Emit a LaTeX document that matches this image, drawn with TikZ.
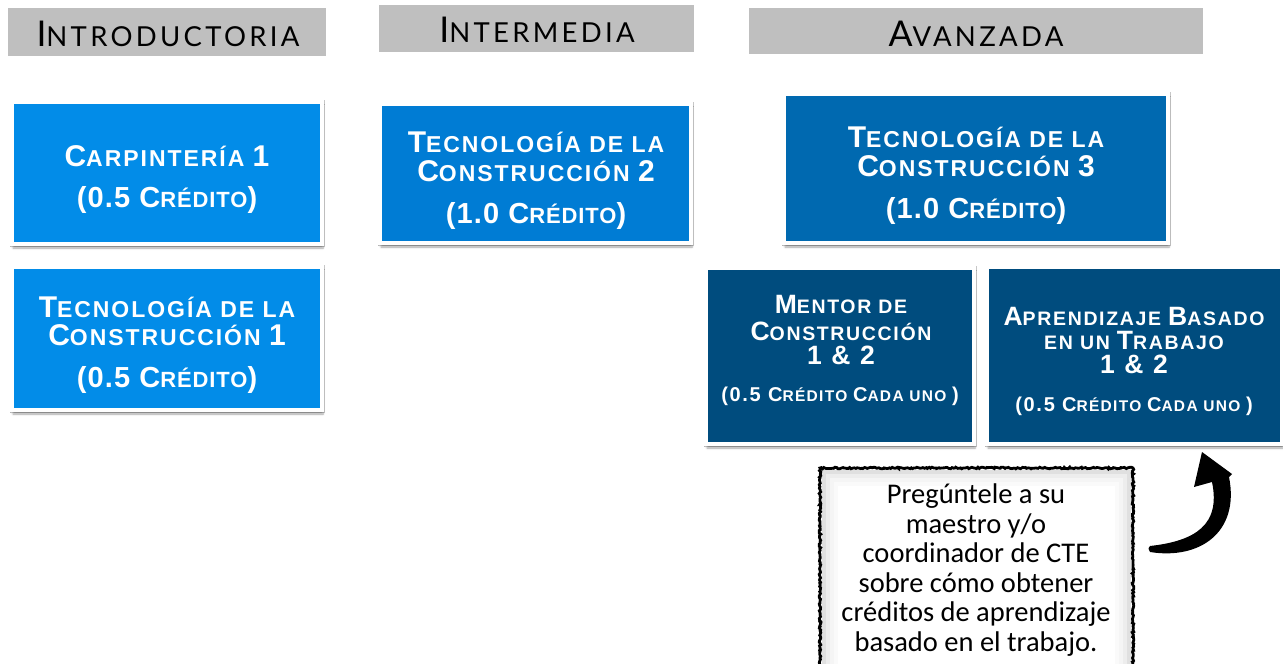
\documentclass[tikz,border=0pt]{standalone}
\usepackage{fontspec}
\setmainfont{Liberation Sans}
\newfontfamily\boxfont[LetterSpace=4]{Liberation Sans Bold}
\newfontfamily\titlefont[LetterSpace=8.5]{Liberation Sans Bold}
\newfontfamily\headfont[LetterSpace=12]{Lato}
\newfontfamily\notefont{Carlito}
\usetikzlibrary{shadows.blur,decorations.pathmorphing}
\definecolor{hdrgray}{RGB}{191,191,191}
\definecolor{blueA}{RGB}{2,140,232}
\definecolor{blueB}{RGB}{0,124,212}
\definecolor{blueC}{RGB}{0,105,176}
\definecolor{blueD}{RGB}{0,76,126}
\newcommand\BG[2]{{\fontsize{#1}{#1}\selectfont #2}}
\tikzset{
  hdr/.style={fill=hdrgray, draw=none, inner sep=0pt},
  hdrtext/.style={anchor=base, inner sep=0pt, font=\headfont\fontsize{27.5}{27.5}\selectfont, text=black},
  course/.style={fill=#1, draw=white, line width=4pt, inner sep=0pt,
    preaction={draw=black!22, line width=5pt},
    blur shadow={shadow xshift=1pt, shadow yshift=-4pt, shadow blur steps=6, shadow opacity=35}},
  ttext/.style={anchor=base, inner sep=0pt, text=white, font=\titlefont\fontsize{23}{23}\selectfont},
  ctext/.style={anchor=base, inner sep=0pt, text=white, font=\boxfont\fontsize{22}{22}\selectfont},
  mtext/.style={anchor=base, inner sep=0pt, text=white, font=\titlefont\fontsize{19.5}{19.5}\selectfont},
  ntext/.style={anchor=base, inner sep=0pt, text=white, font=\titlefont\fontsize{15.5}{15.5}\selectfont},
  notebox/.style={fill=white, draw=none},
}
\begin{document}
\begin{tikzpicture}[x=1pt,y=-1pt]
\useasboundingbox (0,0) rectangle (1283,664);
\clip (0,0) rectangle (1283,664);

% headers
\node[hdr, minimum width=318pt, minimum height=48pt] (hIntro) at (167,32) {};
\node[hdr, minimum width=315pt, minimum height=47pt] (hInter) at (536.5,28.5) {};
\node[hdr, minimum width=454pt, minimum height=46pt] (hAvan) at (976,31) {};
\node[hdrtext] (tIntro) at (168,46) {\BG{35.5}{I}NTRODUCTORIA};
\node[hdrtext] (tInter) at (537,42) {\BG{35.5}{I}NTERMEDIA};
\node[hdrtext] (tAvan) at (976,46) {\BG{35.5}{A}VANZADA};

% course boxes
\node[course=blueA, minimum width=310pt, minimum height=142pt] (carp) at (167,173) {};
\node[course=blueA, minimum width=310pt, minimum height=143pt] (tc1) at (167,338.5) {};
\node[course=blueB, minimum width=311pt, minimum height=139pt] (tc2) at (535.5,173.5) {};
\node[course=blueC, minimum width=384pt, minimum height=149pt] (tc3) at (976,168.5) {};
\node[course=blueD, minimum width=268pt, minimum height=176pt] (ment) at (840,356) {};
\node[course=blueD, minimum width=295pt, minimum height=177pt] (abt) at (1134.5,355.5) {};

% Carpinteria
\node[ttext] (carpA) at (167,166) {\BG{30}{C}ARPINTERÍA \BG{30}{1}};
\node[ctext] (carpB) at (167,207) {\BG{29}{(0.5 C}RÉDITO\BG{29}{)}};
% TC1
\node[ttext] (tc1A) at (167,317) {\BG{30}{T}ECNOLOGÍA DE LA};
\node[ttext] (tc1B) at (167,345) {\BG{30}{C}ONSTRUCCIÓN \BG{30}{1}};
\node[ctext] (tc1C) at (167,387) {\BG{29}{(0.5 C}RÉDITO\BG{29}{)}};
% TC2
\node[ttext] (tc2A) at (536,152) {\BG{30}{T}ECNOLOGÍA DE LA};
\node[ttext] (tc2B) at (536,181) {\BG{30}{C}ONSTRUCCIÓN \BG{30}{2}};
\node[ctext] (tc2C) at (536,223) {\BG{29}{(1.0 C}RÉDITO\BG{29}{)}};
% TC3
\node[ttext] (tc3A) at (976,147) {\BG{30}{T}ECNOLOGÍA DE LA};
\node[ttext] (tc3B) at (976,176) {\BG{30}{C}ONSTRUCCIÓN \BG{30}{3}};
\node[ctext] (tc3C) at (976,218) {\BG{29}{(1.0 C}RÉDITO\BG{29}{)}};
% Mentor
\node[mtext] (mA) at (841,313) {\BG{26.5}{M}ENTOR DE};
\node[mtext] (mB) at (841,340) {\BG{26.5}{C}ONSTRUCCIÓN};
\node[mtext] (mC) at (841,364) {\BG{26.5}{1 \& 2}};
\node[ntext] (mD) at (840,401) {\BG{20}{(0.5 C}RÉDITO \BG{20}{C}ADA UNO \BG{20}{)}};
% ABT
\node[mtext] (aA) at (1134,325) {\BG{26.5}{A}PRENDIZAJE \BG{26.5}{B}ASADO};
\node[mtext] (aB) at (1134,349) {EN UN \BG{26.5}{T}RABAJO};
\node[mtext] (aC) at (1134,373) {\BG{26.5}{1 \& 2}};
\node[ntext] (aD) at (1134,411) {\BG{20}{(0.5 C}RÉDITO \BG{20}{C}ADA UNO \BG{20}{)}};

% note box
\path[notebox] (820,468) rectangle (1133,672);
\foreach \i/\o in {4/0.12,8/0.07,12/0.04,16/0.02}{
  \draw[black, opacity=\o, line width=4pt] (820+\i,468+\i) rectangle (1133-\i,680);
}
\draw[black, line width=2.8pt, decorate, decoration={random steps, segment length=1.5pt, amplitude=0.8pt}] (820,672) -- (820,468) -- (1133,468) -- (1133,672);
\node[inner sep=0pt, align=center, font=\notefont\fontsize{28.5}{29.5}\selectfont] (note) at (976,570)
  {Pregúntele a su\\maestro y/o\\coordinador de CTE\\sobre cómo obtener\\créditos de aprendizaje\\basado en el trabajo.};

% curved arrow
\coordinate (arrTip) at (1202,452);
\fill[black] (1150,552) .. controls (1200,560) and (1240,532) .. (1229,477)
  -- (1232,474) -- (arrTip) -- (1194,487) -- (1212,482)
  .. controls (1221,525) and (1195,541) .. (1150,546) .. controls (1148,548) .. cycle;
\end{tikzpicture}
\end{document}
